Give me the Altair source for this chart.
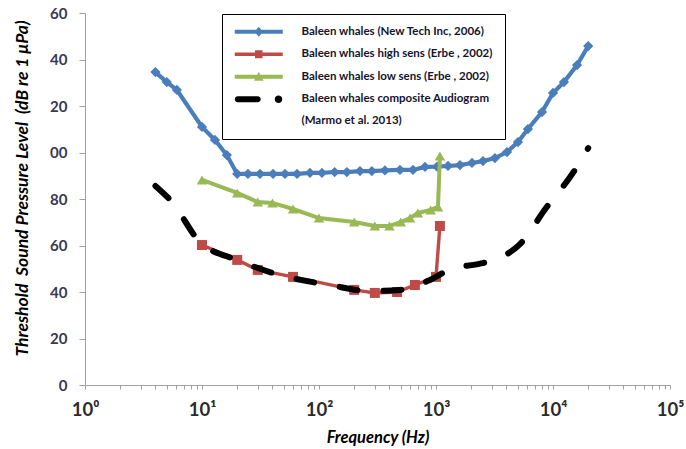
import altair as alt
import pandas as pd

# Series names and colours
SERIES = [
    "Baleen whales (New Tech Inc, 2006)",
    "Baleen whales high sens (Erbe , 2002)",
    "Baleen whales low sens (Erbe , 2002)",
    "Baleen whales composite Audiogram (Marmo et al. 2013)",
]
COLORS = ["#4a7ebb", "#be4b48", "#98b954", "#000000"]

# Legend glyphs: a line segment with the series marker (units of 5 px)
GLYPHS = [
    "M-1,-0.42H8.6V0.42H-1Z M3.8,-1L4.65,0L3.8,1L2.95,0Z",
    "M-1,-0.34H8.6V0.34H-1Z M3.05,-0.8H4.55V0.8H3.05Z",
    "M-1,-0.42H8.6V0.42H-1Z M3.8,-1L4.75,0.8L2.85,0.8Z",
    "M-0.4,-0.6H3.6A0.6,0.6 0 0,1 3.6,0.6H-0.4A0.6,0.6 0 0,1 -0.4,-0.6Z "
    "M7,0A0.75,0.75 0 1,1 8.5,0A0.75,0.75 0 1,1 7,0Z",
]

# Frequency (Hz) and threshold (dB re 1 uPa) for each audiogram
newtech_freq = [4, 5, 6.1, 10, 12.9, 16.3, 20, 24.7, 31.3, 40.5, 51.2, 64.9,
                83.7, 106, 136, 173, 224, 283, 366, 492, 636, 805, 1020, 1267,
                1602, 2031, 2522, 3190, 4043, 5020, 6105, 8048, 10000, 12400,
                16050, 20000]
newtech_spl = [134.6, 130.3, 126.9, 111.0, 105.4, 98.9, 90.8, 90.8, 90.8, 90.8,
               90.8, 90.8, 91.2, 91.2, 91.6, 91.6, 92.0, 92.0, 92.3, 92.5, 92.5,
               93.8, 93.9, 94.2, 94.6, 95.5, 96.3, 97.6, 100.2, 104.5, 110.1,
               117.4, 125.6, 130.3, 137.6, 145.8]

high_freq = [10, 20, 30, 60, 200, 300, 465, 660, 1000, 1080]
high_spl = [60.2, 53.8, 49.5, 46.5, 40.9, 39.6, 40.0, 43.0, 46.5, 68.4]

low_freq = [10, 20, 30, 40, 60, 100, 200, 300, 400, 500, 600, 700, 900, 1040, 1080]
low_spl = [88.2, 82.6, 78.7, 78.3, 75.7, 71.8, 70.1, 68.4, 68.4, 70.1, 71.8, 74.0,
           75.3, 76.6, 98.5]

comp_freq = [4, 5.54, 9.6, 19.9, 49.3, 124, 273, 493, 889, 1397, 2285, 3663,
             5224, 8710, 14800, 20000]
comp_spl = [85.6, 78.7, 61.5, 53.8, 46.9, 43.0, 40.4, 40.9, 45.2, 50.3, 52.0,
            55.1, 60.6, 76.1, 91.2, 101.9]

y_ticks = [0, 20, 40, 60, 80, 100, 120, 140, 160]
x_ticks = [m * 10 ** e for e in range(5) for m in range(1, 10)] + [100000]


def frame(name, freq, spl):
    return pd.DataFrame({"series": name, "freq": freq, "spl": spl})


frames = [
    frame(SERIES[0], newtech_freq, newtech_spl),
    frame(SERIES[1], high_freq, high_spl),
    frame(SERIES[2], low_freq, low_spl),
    frame(SERIES[3], comp_freq, comp_spl),
]
all_data = pd.concat(frames, ignore_index=True)

FONT = "Lato"

x_enc = alt.X(
    "freq:Q",
    scale=alt.Scale(type="log", domain=[1, 100000], nice=False),
    axis=alt.Axis(
        values=x_ticks,
        title="Frequency (Hz)",
        titleFont=FONT, titleFontSize=16.5, titleFontWeight="bold",
        titleFontStyle="italic", titleColor="#000000",
        titleY=52, titleBaseline="middle",
        labelExpr=("datum.value == 1 ? '10⁰' : datum.value == 10 ? '10¹' : "
                   "datum.value == 100 ? '10²' : datum.value == 1000 ? '10³' : "
                   "datum.value == 10000 ? '10⁴' : datum.value == 100000 ? '10⁵' : ''"),
        labelFont=FONT, labelFontSize=18.5, labelFontWeight="bold",
        labelColor="#2b2b2b", labelPadding=11,
        labelOverlap=False, labelFlush=False,
        tickSize=4, tickColor="#a0a0a0", domainColor="#a0a0a0",
        grid=False,
    ),
)

y_enc = alt.Y(
    "spl:Q",
    scale=alt.Scale(domain=[0, 160], nice=False),
    axis=alt.Axis(
        values=y_ticks,
        title="Threshold \u00a0Sound Pressure Level \u00a0(dB re 1 μPa)",
        titleFont=FONT, titleFontSize=17.5, titleFontWeight="bold",
        titleFontStyle="italic", titleColor="#000000",
        titleX=-63, titleY=175, titleAlign="center", titleBaseline="middle",
        labelExpr=("datum.value >= 100 ? (datum.value == 100 ? '00' : "
                   "format(datum.value - 100, 'd')) : format(datum.value, 'd')"),
        labelFont=FONT, labelFontSize=15, labelFontWeight="bold",
        labelColor="#3b3852", labelPadding=12,
        tickSize=6, tickColor="#a0a0a0", domainColor="#a0a0a0",
        grid=False,
    ),
)


def series_layers(i, shape, size, width):
    base = alt.Chart(frames[i])
    line = base.mark_line(color=COLORS[i], strokeWidth=width).encode(x=x_enc, y=y_enc)
    pts = base.mark_point(shape=shape, size=size, filled=True, opacity=1,
                          color=COLORS[i]).encode(x=x_enc, y=y_enc)
    return [line, pts]


layers = []
layers += series_layers(0, "diamond", 105, 4.2)
layers += series_layers(1, "square", 100, 3.4)
layers += series_layers(2, "triangle-up", 110, 4)

composite = alt.Chart(frames[3]).mark_line(
    color=COLORS[3], strokeWidth=6, strokeDash=[18, 26], strokeCap="round",
    interpolate="monotone",
).encode(x=x_enc, y=y_enc)
layers.append(composite)

legend_def = alt.Legend(
    title=None, orient="none", legendX=137, legendY=1,
    padding=12, fillColor="white", strokeColor="#000000",
    symbolSize=100, symbolStrokeWidth=0, symbolOpacity=1,
    labelOffset=56, labelFont=FONT, labelFontSize=11.5, labelFontWeight="bold",
    labelColor="#14142e", labelLimit=400, rowPadding=9.5,
    labelExpr=("datum.label == 'Baleen whales composite Audiogram (Marmo et al. 2013)'"
               " ? ['Baleen whales composite Audiogram', '(Marmo et al. 2013)']"
               " : datum.label"),
)

legend_layer = alt.Chart(all_data).mark_point(filled=True, opacity=0).encode(
    x=x_enc,
    y=y_enc,
    color=alt.Color("series:N", scale=alt.Scale(domain=SERIES, range=COLORS),
                    legend=legend_def),
    shape=alt.Shape("series:N", scale=alt.Scale(domain=SERIES, range=GLYPHS),
                    legend=legend_def),
)
layers.append(legend_layer)

chart = alt.layer(*layers).properties(
    width=585,
    height=372,
    autosize=alt.AutoSizeParams(type="none"),
    padding={"left": 85, "top": 13, "right": 16, "bottom": 64},
    background="white",
).configure(
    style={"guide-label": {"lineHeight": 22}},
).configure_view(
    stroke=None,
)

chart.save("out.html", embed_options={"renderer": "svg", "actions": False})
